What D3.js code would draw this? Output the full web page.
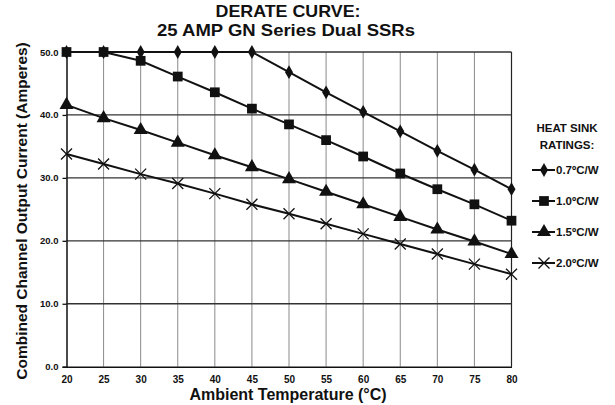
<!DOCTYPE html>
<html><head><meta charset="utf-8">
<script src="https://cdn.jsdelivr.net/npm/d3@7/dist/d3.min.js"></script>
<style>body{margin:0;background:#fff}svg{display:block}text{font-family:"Liberation Sans",Arial,sans-serif;fill:#111}</style>
</head><body>
<svg id="c" width="615" height="405"></svg>
<script>
const temps = [20,25,30,35,40,45,50,55,60,65,70,75,80];
const s07 = [50,50,50,50,50,50,46.8,43.6,40.5,37.4,34.3,31.3,28.2];
const s10 = [50,50,48.6,46.1,43.6,41.0,38.5,36.0,33.4,30.7,28.2,25.8,23.2];
const s15 = [41.6,39.5,37.6,35.6,33.6,31.7,29.8,27.8,25.8,23.8,21.8,19.9,17.9];
const s20 = [33.8,32.2,30.6,29.1,27.5,25.8,24.3,22.7,21.1,19.5,17.9,16.3,14.7];
const seriesNames = ["0.7ºC/W","1.0ºC/W","1.5ºC/W","2.0ºC/W"];
const yTicks = [0,10,20,30,40,50];
const titleLines = ["DERATE CURVE:","25 AMP GN Series Dual SSRs"];
const xTitle = "Ambient Temperature (°C)";
const yTitle = "Combined Channel Output Current (Amperes)";
const legendTitle = ["HEAT SINK","RATINGS:"];

const svg = d3.select("#c");
const x = d3.scaleLinear().domain([20,80]).range([66.5,511.5]);
const y = d3.scaleLinear().domain([0,50]).range([366.7,52]);

// vertical gridlines
svg.append("g").selectAll("line").data(temps.slice(1)).join("line")
  .attr("x1",d=>x(d)).attr("x2",d=>x(d)).attr("y1",y(0)).attr("y2",y(50))
  .attr("stroke",d=>d===80?"#222":"#8a8a8a").attr("stroke-width",d=>d===80?1.2:1);
// horizontal gridlines
svg.append("g").selectAll("line").data(yTicks.slice(1)).join("line")
  .attr("x1",x(20)).attr("x2",x(80)).attr("y1",d=>y(d)).attr("y2",d=>y(d))
  .attr("stroke","#333").attr("stroke-width",1.3);

// axes
const xAxis = d3.axisBottom(x).tickValues(temps).tickSize(0).tickPadding(9).tickFormat(d3.format("d"));
const gx = svg.append("g").attr("transform",`translate(0,${y(0)})`).call(xAxis);
gx.select(".domain").attr("stroke","#111").attr("stroke-width",1.5);
gx.selectAll("text").attr("font-size",10).attr("font-weight","bold").style("font-family","Liberation Sans, Arial");

const yAxis = d3.axisLeft(y).tickValues(yTicks).tickSize(4).tickPadding(4).tickFormat(d3.format(".1f"));
const gy = svg.append("g").attr("transform",`translate(${x(20)},0)`).call(yAxis);
gy.select(".domain").attr("stroke","#111").attr("stroke-width",1.5);
gy.selectAll(".tick line").attr("stroke","#111").attr("stroke-width",1.3);
gy.selectAll("text").attr("font-size",9.5).attr("font-weight","bold").style("font-family","Liberation Sans, Arial");

// series
const data = [s07,s10,s15,s20];
const line = d3.line().x((d,i)=>x(temps[i])).y(d=>y(d));
const symTypes = [d3.symbolDiamond, d3.symbolSquare, d3.symbolTriangle, null];
const symSizes = [55, 95, 85, 0];
data.forEach((s,k)=>{
  svg.append("path").datum(s).attr("d",line).attr("fill","none").attr("stroke","#111").attr("stroke-width",2);
});
function drawMarker(g,k,cx,cy){
  if(k===3){
    const r=5.5;
    g.append("path").attr("d",`M${cx-r},${cy-r}L${cx+r},${cy+r}M${cx-r},${cy+r}L${cx+r},${cy-r}`)
      .attr("stroke","#111").attr("stroke-width",1.3).attr("fill","none");
  } else {
    g.append("path").attr("d",d3.symbol().type(symTypes[k]).size(symSizes[k])())
      .attr("transform",`translate(${cx},${cy})`).attr("fill","#111");
  }
}
const mg = svg.append("g");
[3,2,0,1].forEach(k=>{
  data[k].forEach((v,i)=>drawMarker(mg,k,x(temps[i]),y(v)));
});

// title
svg.append("text").attr("x",288).attr("y",17).attr("text-anchor","middle")
  .attr("font-size",16.5).attr("font-weight","bold")
  .attr("textLength",145).attr("lengthAdjust","spacingAndGlyphs").text(titleLines[0]);
svg.append("text").attr("x",286).attr("y",36).attr("text-anchor","middle")
  .attr("font-size",16.5).attr("font-weight","bold")
  .attr("textLength",258).attr("lengthAdjust","spacingAndGlyphs").text(titleLines[1]);

// axis titles
svg.append("text").attr("x",288).attr("y",400).attr("text-anchor","middle")
  .attr("font-size",16).attr("font-weight","bold").text(xTitle);
svg.append("text").attr("transform","translate(27,211) rotate(-90)").attr("text-anchor","middle")
  .attr("font-size",15.5).attr("font-weight","bold").text(yTitle);

// legend
svg.append("text").attr("x",567).attr("y",132).attr("text-anchor","middle")
  .attr("font-size",11.5).attr("font-weight","bold").text(legendTitle[0]);
svg.append("text").attr("x",567).attr("y",149).attr("text-anchor","middle")
  .attr("font-size",11.5).attr("font-weight","bold").text(legendTitle[1]);
const ly = [170,201,232,263];
const lg = svg.append("g");
seriesNames.forEach((n,k)=>{
  lg.append("line").attr("x1",532).attr("x2",555).attr("y1",ly[k]).attr("y2",ly[k]).attr("stroke","#111").attr("stroke-width",2);
  drawMarker(lg,k,544,ly[k]);
  lg.append("text").attr("x",556).attr("y",ly[k]+4).attr("font-size",11.5).attr("font-weight","bold").text(n);
});
</script>
</body></html>
